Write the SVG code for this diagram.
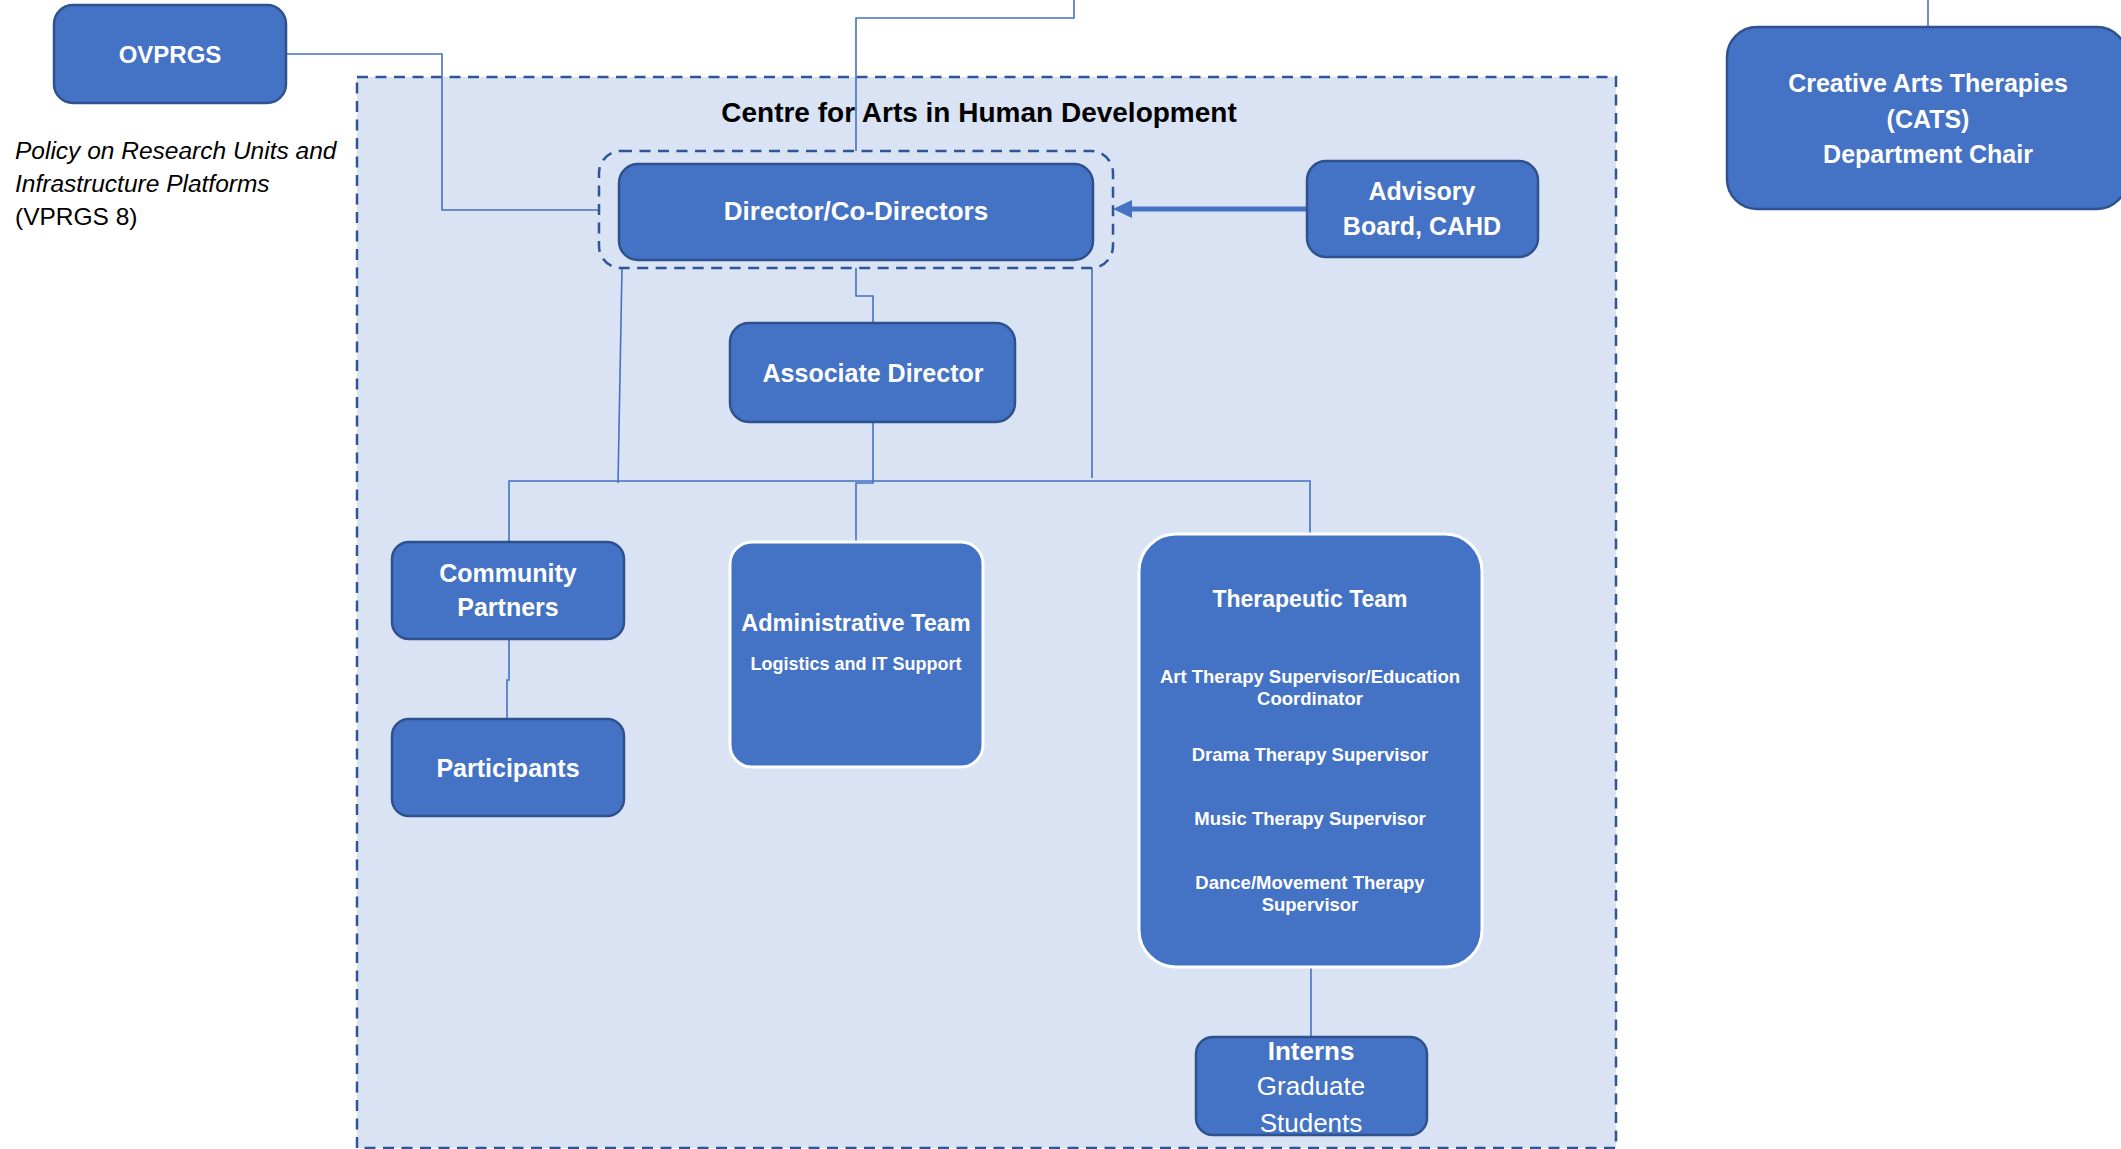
<svg xmlns="http://www.w3.org/2000/svg" width="2121" height="1149" viewBox="0 0 2121 1149">
<defs>
<style>
.box{fill:#4472C4;stroke:#2F528F;stroke-width:2.5}
.wbox{fill:#4472C4;stroke:#FFFFFF;stroke-width:3}
.t{font-family:"Liberation Sans",Arial,sans-serif;fill:#FFFFFF;text-anchor:middle}
.b{font-weight:bold}
.con{fill:none;stroke:#4472C4;stroke-width:1.6}
.dash{stroke:#2F5597;stroke-width:2.5;stroke-dasharray:11 7.5}
</style>
<marker id="arr" viewBox="0 0 10 10" refX="1" refY="5" markerWidth="4" markerHeight="4" orient="auto-start-reverse" markerUnits="strokeWidth">
<path d="M0,5 L10,0 L10,10 Z" fill="#4472C4"/>
</marker>
</defs>
<rect width="2121" height="1149" fill="#FFFFFF"/>

<g id="container">
<rect x="357" y="77" width="1259" height="1071" class="dash" fill="#DAE3F3"/>
</g>

<g id="connectors">
<polyline class="con" points="286,54 442,54 442,210 599,210"/>
<polyline class="con" points="856,151 856,18 1074,18 1074,0"/>
<line class="con" x1="1928" y1="0" x2="1928" y2="27"/>
<polyline class="con" points="856,268 856,296 873,296 873,323"/>
<line class="con" x1="622" y1="268" x2="618" y2="483"/>
<line class="con" x1="1092" y1="268" x2="1092" y2="478"/>
<polyline class="con" points="509,542 509,481 1310,481 1310,534"/>
<polyline class="con" points="873,422 873,483 856,483 856,542"/>
<polyline class="con" points="509,639 509,680 507,680 507,719"/>
<line class="con" x1="1311" y1="967" x2="1311" y2="1037"/>
<line x1="1307" y1="209" x2="1131" y2="209" stroke="#4472C4" stroke-width="5"/>
<path d="M1113,209 L1132,200 L1132,218 Z" fill="#4472C4"/>
</g>

<g id="title">
<text x="979" y="122" font-family="Liberation Sans,Arial,sans-serif" font-weight="bold" font-size="28" text-anchor="middle" fill="#000000">Centre for Arts in Human Development</text>
</g>

<g id="ovprgs">
<rect x="54" y="5" width="232" height="98" rx="19" class="box"/>
<text x="170" y="63" class="t b" font-size="24">OVPRGS</text>
</g>

<g id="policy">
<text font-family="Liberation Sans,Arial,sans-serif" font-size="24.5" fill="#000000">
<tspan x="15" y="159" font-style="italic">Policy on Research Units and</tspan>
<tspan x="15" y="192" font-style="italic">Infrastructure Platforms</tspan>
<tspan x="15" y="225">(VPRGS 8)</tspan>
</text>
</g>

<g id="director-group">
<rect x="599" y="151" width="514" height="117" rx="22" fill="none" class="dash"/>
</g>

<g id="director">
<rect x="619" y="164" width="474" height="96" rx="19" class="box"/>
<text x="856" y="220" class="t b" font-size="26">Director/Co-Directors</text>
</g>

<g id="advisory">
<rect x="1307" y="161" width="231" height="96" rx="19" class="box"/>
<text x="1422" y="200" class="t b" font-size="25">Advisory</text>
<text x="1422" y="235" class="t b" font-size="25">Board, CAHD</text>
</g>

<g id="cats">
<rect x="1727" y="27" width="400" height="182" rx="30" class="box"/>
<text x="1928" y="92" class="t b" font-size="25">Creative Arts Therapies</text>
<text x="1928" y="128" class="t b" font-size="25">(CATS)</text>
<text x="1928" y="163" class="t b" font-size="25">Department Chair</text>
</g>

<g id="associate">
<rect x="730" y="323" width="285" height="99" rx="19" class="box"/>
<text x="873" y="382" class="t b" font-size="25">Associate Director</text>
</g>

<g id="community">
<rect x="392" y="542" width="232" height="97" rx="17" class="box"/>
<text x="508" y="582" class="t b" font-size="25">Community</text>
<text x="508" y="616" class="t b" font-size="25">Partners</text>
</g>

<g id="participants">
<rect x="392" y="719" width="232" height="97" rx="17" class="box"/>
<text x="508" y="777" class="t b" font-size="25">Participants</text>
</g>

<g id="admin">
<rect x="730" y="542" width="253" height="225" rx="22" class="wbox"/>
<text x="856" y="631" class="t b" font-size="23.5">Administrative Team</text>
<text x="856" y="670" class="t b" font-size="18">Logistics and IT Support</text>
</g>

<g id="therapeutic">
<rect x="1139" y="534" width="343" height="433" rx="37" class="wbox"/>
<text x="1310" y="607" class="t b" font-size="23">Therapeutic Team</text>
<text x="1310" y="683" class="t b" font-size="18.5">Art Therapy Supervisor/Education</text>
<text x="1310" y="705" class="t b" font-size="18.5">Coordinator</text>
<text x="1310" y="761" class="t b" font-size="18.5">Drama Therapy Supervisor</text>
<text x="1310" y="825" class="t b" font-size="18.5">Music Therapy Supervisor</text>
<text x="1310" y="889" class="t b" font-size="18.5">Dance/Movement Therapy</text>
<text x="1310" y="911" class="t b" font-size="18.5">Supervisor</text>
</g>

<g id="interns">
<rect x="1196" y="1037" width="231" height="98" rx="17" class="box"/>
<text x="1311" y="1060" class="t b" font-size="26">Interns</text>
<text x="1311" y="1095" class="t" font-size="26">Graduate</text>
<text x="1311" y="1132" class="t" font-size="26">Students</text>
</g>
</svg>
